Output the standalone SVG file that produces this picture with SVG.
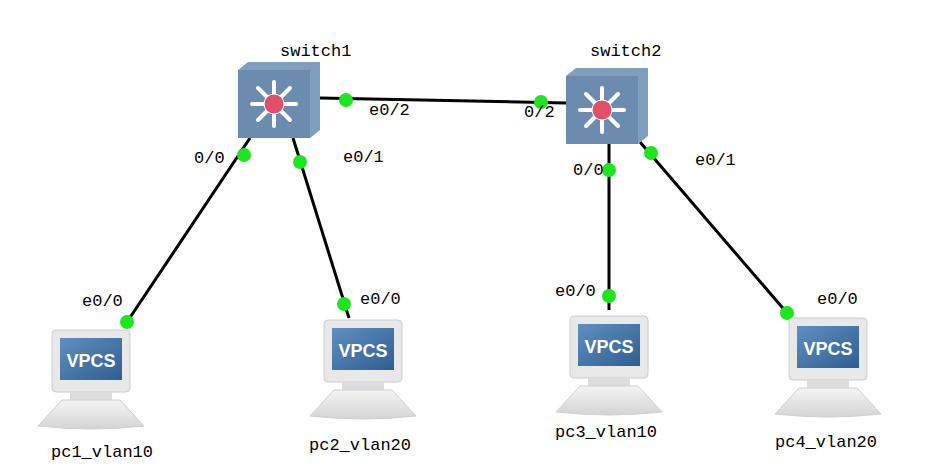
<svg xmlns="http://www.w3.org/2000/svg" xmlns:xlink="http://www.w3.org/1999/xlink" width="929" height="476" viewBox="0 0 929 476">
<style>
text{font-family:"Liberation Mono","DejaVu Sans Mono",monospace;font-size:17px;fill:#000}
.lk{stroke:#000;stroke-width:3;fill:none}
.dot{fill:#1ee61e}
.vp{font-family:"Liberation Sans",Arial,sans-serif;font-weight:bold;font-size:18px;fill:#fff}
</style>
<defs>
<linearGradient id="scr" x1="0" y1="0" x2="1" y2="1"><stop offset="0" stop-color="#5f8fc0"/><stop offset="1" stop-color="#2f5f90"/></linearGradient>
<linearGradient id="bs" x1="0" y1="0" x2="0" y2="1"><stop offset="0" stop-color="#f4f4f4"/><stop offset="1" stop-color="#d4d4d4"/></linearGradient>
<g id="pc">
<rect x="0" y="0" width="78" height="62" rx="4" fill="#e8e8e8" stroke="#ccc"/>
<rect x="8" y="8" width="62" height="42" fill="url(#scr)"/>
<text class="vp" x="39" y="37" text-anchor="middle">VPCS</text>
<path d="M18 62 L60 62 L60 70 L18 70Z" fill="#ddd"/>
<path d="M10 70 L68 70 L92 96 Q39 102 -14 96Z" fill="url(#bs)" stroke="#d0d0d0"/>
</g>
<g id="sw">
<path d="M0 8 L10 0 L82 0 L82 68 L72 76 L0 76Z" fill="#7f9fbf"/>
<rect x="0" y="8" width="72" height="68" fill="#6b8caf"/>
<g stroke="#fff" stroke-width="4" stroke-linecap="round">
<line x1="36" y1="20" x2="36" y2="64"/><line x1="14" y1="42" x2="58" y2="42"/>
<line x1="20" y1="26" x2="52" y2="58"/><line x1="52" y1="26" x2="20" y2="58"/>
</g>
<circle cx="36" cy="42" r="10" fill="#e0506a" stroke="#fff"/>
</g>
</defs>
<g id="connectors">
<line class="lk" x1="250" y1="138" x2="127" y2="322"/>
<line class="lk" x1="293" y1="138" x2="349" y2="318"/>
<line class="lk" x1="320" y1="98" x2="566" y2="103"/>
<line class="lk" x1="609" y1="142" x2="609" y2="310"/>
<line class="lk" x1="640" y1="142" x2="787" y2="313"/>
<circle class="dot" cx="244" cy="155" r="7"/><circle class="dot" cx="127" cy="322" r="7"/>
<circle class="dot" cx="300" cy="162" r="7"/><circle class="dot" cx="344" cy="304" r="7"/>
<circle class="dot" cx="346" cy="100" r="7"/><circle class="dot" cx="541" cy="102" r="7"/>
<circle class="dot" cx="609" cy="170" r="7"/><circle class="dot" cx="609" cy="296" r="7"/>
<circle class="dot" cx="651" cy="153" r="7"/><circle class="dot" cx="787" cy="313" r="7"/>
<text x="369" y="115">e0/2</text><text x="524" y="117">0/2</text>
<text x="194" y="163">0/0</text><text x="343" y="162">e0/1</text>
<text x="573" y="175">0/0</text><text x="695" y="165">e0/1</text>
<text x="82" y="306">e0/0</text><text x="360" y="304">e0/0</text>
<text x="555" y="296">e0/0</text><text x="817" y="304">e0/0</text>
</g>
<g id="switch1"><use xlink:href="#sw" x="238" y="62"/><text x="280" y="56">switch1</text></g>
<g id="switch2"><use xlink:href="#sw" x="566" y="68"/><text x="590" y="56">switch2</text></g>
<g id="pc1"><use xlink:href="#pc" x="52" y="330"/><text x="51" y="457">pc1_vlan10</text></g>
<g id="pc2"><use xlink:href="#pc" x="324" y="320"/><text x="309" y="450">pc2_vlan20</text></g>
<g id="pc3"><use xlink:href="#pc" x="570" y="316"/><text x="555" y="437">pc3_vlan10</text></g>
<g id="pc4"><use xlink:href="#pc" x="789" y="318"/><text x="775" y="447">pc4_vlan20</text></g>
</svg>
